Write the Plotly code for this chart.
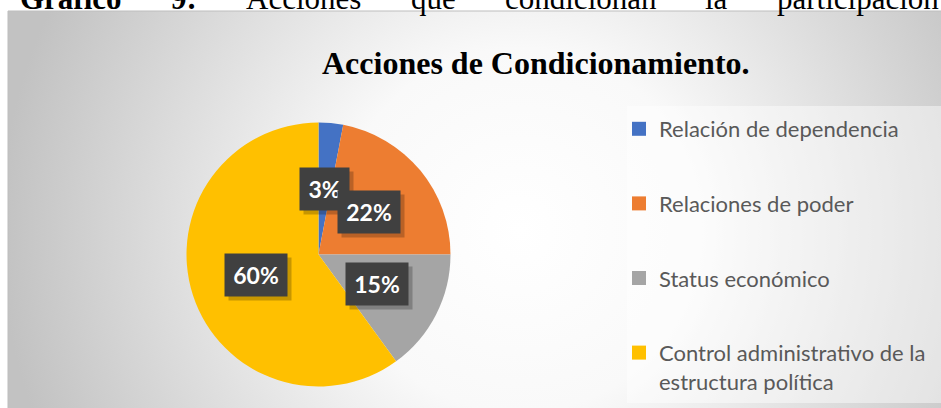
import base64
import math
import plotly.graph_objects as go

# ---------------- data ----------------
categories = [
    "Relación de dependencia",
    "Relaciones de poder",
    "Status económico",
    "Control administrativo de la estructura política",
]
legend_labels = [
    "Relación de dependencia",
    "Relaciones de poder",
    "Status económico",
    "Control administrativo de la<br>estructura política",
]
values = [3, 22, 15, 60]
colors = ["#4472C4", "#ED7D31", "#A5A5A5", "#FFC000"]

chart_title = "Acciones de Condicionamiento."
caption_words = ["Gráfico", "9:", "Acciones", "que", "condicionan", "la", "participación"]
caption_bold = [True, True, False, False, False, False, False]

# ---------------- layout helpers (pixels -> paper) ----------------
W, H = 941, 408
def px(x):
    return x / W
def py(y):
    return 1 - y / H

# pie geometry (pixels)
cx, cy, r = 318.5, 254.5, 132

fig = go.Figure()

# pie
fig.add_trace(go.Pie(
    labels=categories, values=values, sort=False, direction="clockwise", rotation=0,
    marker=dict(colors=colors, line=dict(width=0)),
    textinfo="none", showlegend=False, hoverinfo="label+percent",
    domain=dict(x=[px(cx - r), px(cx + r)], y=[py(cy + r), py(cy - r)]),
))

# legend entries (one group per category to space them apart)
for i, (lab, col) in enumerate(zip(legend_labels, colors)):
    fig.add_trace(go.Scatter(
        x=[None], y=[None], mode="markers", name=lab, legendgroup=str(i),
        marker=dict(symbol="square", size=14, color=col), hoverinfo="skip",
    ))

# background radial gradient of chart area
bx0, by0, bx1, by1 = 8, 11, 941, 408
bw, bh = bx1 - bx0, by1 - by0
svg = (
    f'<svg xmlns="http://www.w3.org/2000/svg" width="{bw}" height="{bh}">'
    f'<defs><radialGradient id="g" gradientUnits="userSpaceOnUse" cx="512" cy="219" r="520">'
    f'<stop offset="0" stop-color="#ffffff"/><stop offset="0.35" stop-color="#f9f9f9"/>'
    f'<stop offset="1" stop-color="#c2c2c2"/></radialGradient></defs>'
    f'<rect width="100%" height="100%" fill="url(#g)"/></svg>'
)
src = "data:image/svg+xml;base64," + base64.b64encode(svg.encode()).decode()

annotations = []

# caption (justified line, partially cut by the chart box)
cap_x = [18, 169, 244, 408.6, 502.6, 703.4, 775]
for w, b, x in zip(caption_words, caption_bold, cap_x):
    annotations.append(dict(
        text=w, x=px(x), y=py(18.5), xref="paper", yref="paper",
        xanchor="left", yanchor="bottom", showarrow=False,
        font=dict(family="Liberation Serif", size=31, color="black",
                  weight="bold" if b else "normal"),
    ))

# chart title
annotations.append(dict(
    text=chart_title, x=px(536), y=py(83), xref="paper", yref="paper",
    xanchor="center", yanchor="bottom", showarrow=False,
    font=dict(family="Liberation Serif", size=32, color="black", weight="bold"),
))

# data labels placed at half radius along each slice's mid-angle
total = sum(values)
cum = 0
for v in values:
    mid = (cum + v / 2) / total
    cum += v
    th = 2 * math.pi * mid
    lx = cx + 0.5 * r * math.sin(th)
    ly = cy - 0.5 * r * math.cos(th)
    txt = f"{round(100 * v / total)}%"
    bw_lab = 13 * len(txt) + 9
    annotations.append(dict(
        text=txt, x=px(lx), y=py(ly), xref="paper", yref="paper", width=bw_lab,
        xanchor="center", yanchor="middle",
        xshift=4, yshift=-4, showarrow=False, borderpad=7,
        bgcolor="rgba(0,0,0,0.22)",
        font=dict(family="Lato", size=23, color="rgba(0,0,0,0)", weight="bold"),
    ))
    annotations.append(dict(
        text=txt, x=px(lx), y=py(ly), xref="paper", yref="paper", width=bw_lab,
        xanchor="center", yanchor="middle",
        showarrow=False, borderpad=7, bgcolor="#404040",
        font=dict(family="Lato", size=23, color="white", weight="bold"),
    ))

fig.update_layout(
    width=W, height=H, autosize=False,
    margin=dict(l=0, r=0, t=0, b=0, pad=0, autoexpand=False),
    paper_bgcolor="white", plot_bgcolor="rgba(0,0,0,0)",
    xaxis=dict(visible=False, domain=[0, 1]),
    yaxis=dict(visible=False, domain=[0, 1]),
    images=[dict(source=src, xref="paper", yref="paper", x=px(bx0), y=py(by0),
                 sizex=bw / W, sizey=bh / H, xanchor="left", yanchor="top",
                 sizing="stretch", layer="below")],
    shapes=[
        dict(type="rect", xref="paper", yref="paper", x0=px(627), x1=1.0,
             y0=py(403), y1=py(106), fillcolor="rgba(255,255,255,0.45)",
             line=dict(width=0), layer="below"),
        dict(type="rect", xref="paper", yref="paper", x0=px(bx0), x1=1.01,
             y0=py(by1) - 0.01, y1=py(by0), fillcolor="rgba(0,0,0,0)",
             line=dict(width=1, color="#bdbdbd"), layer="below"),
    ],
    legend=dict(
        x=px(619), y=py(108), xanchor="left", yanchor="top",
        bgcolor="rgba(0,0,0,0)", borderwidth=0, tracegroupgap=43,
        valign="top", itemwidth=30,
        font=dict(family="Lato", size=22, color="#595959"),
    ),
    showlegend=True,
    annotations=annotations,
)

fig.write_html(
    "out.html",
    config={"displayModeBar": False},
    post_script="document.body.style.margin='0';document.body.style.overflow='hidden';",
)
